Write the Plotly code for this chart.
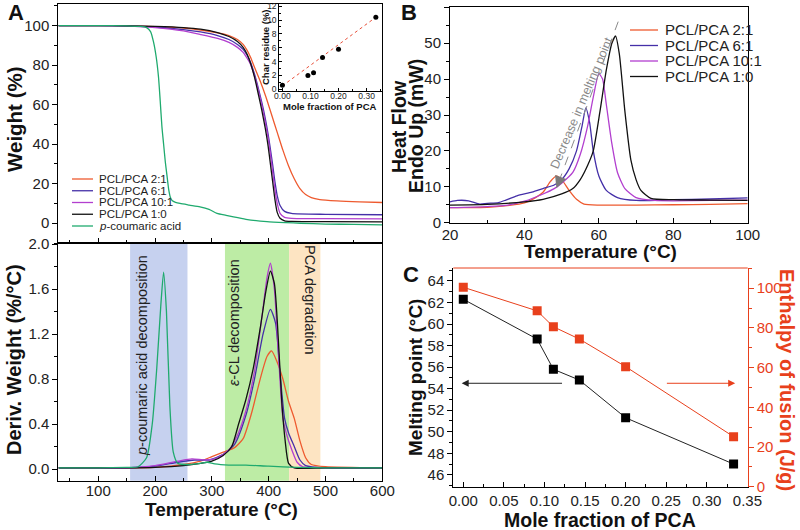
import plotly.graph_objects as go

FONT = "Liberation Sans, Arial, sans-serif"
W, H = 800, 530

# ---------------- data ----------------
names = ["PCL/PCA 2:1", "PCL/PCA 6:1", "PCL/PCA 10:1", "PCL/PCA 1:0", "<i>p</i>-coumaric acid"]
colors = ["#ee5a2f", "#4530a8", "#b23fcf", "#111111", "#1faa6e"]

# TGA (weight %)
tga_T_red = [30, 100, 150, 200, 250, 280, 310, 330, 345, 355, 362, 368, 375, 385, 395, 405, 415, 425, 435, 445, 455, 465, 475, 490, 520, 560, 600]
tga_w_red = [100, 100, 99.9, 99.5, 98.8, 97.8, 96.3, 95, 93, 90.5, 87.5, 84, 79, 72, 64, 55, 46, 37, 29, 22.5, 17.5, 14.5, 13, 12, 11.3, 10.8, 10.5]
tga_T_blk = [30, 100, 150, 200, 250, 280, 310, 330, 345, 355, 362, 368, 375, 382, 388, 394, 399, 403, 407, 411, 415, 420, 428, 440, 500, 600]
tga_w_6 = [100, 100, 99.9, 99.3, 98, 96.8, 95, 93, 90.5, 88, 85, 81.5, 75.5, 68, 61, 53, 45, 37.5, 29.5, 21, 14, 9, 6, 5, 4.5, 4.3]
tga_w_10 = [100, 100, 99.8, 99, 97.3, 95.5, 93.5, 91.5, 89, 86.5, 83.5, 80.5, 74.5, 67, 59.5, 51, 43, 35, 26, 17, 10, 5, 3, 2.5, 2.3, 2.2]
tga_w_blk = [100, 100, 99.9, 99.6, 99, 98.2, 96.5, 94.5, 92, 89, 85.5, 81, 74, 65, 57, 48, 39, 30, 21, 12, 5.5, 2.5, 1.2, 0.9, 0.8, 0.7]
tga_T_pca = [30, 100, 150, 175, 185, 192, 197, 202, 206, 209, 212, 215, 218, 221, 224, 227, 230, 236, 244, 260, 279, 295, 309, 325, 338, 360, 397, 430, 456, 500, 550, 600]
tga_w_pca = [100, 100, 99.9, 99.6, 99, 97, 92, 84, 74, 62, 49, 40, 31, 24, 17, 13, 11.5, 10.6, 10, 9.2, 8.3, 7, 5, 4, 3.2, 2, 0.8, 0.3, 0, -0.4, -0.6, -0.8]

# DTG (%/°C)
dtg_T_red = [30, 150, 200, 250, 280, 300, 320, 340, 355, 370, 385, 397, 405, 415, 425, 435, 445, 455, 465, 475, 500, 600]
dtg_d_red = [0.01, 0.01, 0.015, 0.04, 0.07, 0.11, 0.15, 0.19, 0.27, 0.5, 0.8, 1.0, 1.05, 0.95, 0.8, 0.6, 0.45, 0.25, 0.1, 0.04, 0.02, 0.01]
dtg_T_6 = [30, 150, 200, 240, 270, 295, 320, 340, 360, 375, 390, 403, 412, 420, 428, 435, 445, 455, 465, 500, 600]
dtg_d_6 = [0.01, 0.01, 0.025, 0.06, 0.08, 0.08, 0.13, 0.22, 0.48, 0.8, 1.2, 1.42, 1.3, 0.85, 0.45, 0.32, 0.2, 0.08, 0.03, 0.01, 0.01]
dtg_T_10 = [30, 150, 200, 240, 265, 290, 310, 330, 345, 360, 375, 388, 397, 403, 410, 418, 425, 432, 440, 450, 460, 500, 600]
dtg_d_10 = [0.01, 0.01, 0.03, 0.07, 0.09, 0.08, 0.1, 0.17, 0.3, 0.52, 0.87, 1.35, 1.7, 1.83, 1.6, 0.95, 0.45, 0.3, 0.18, 0.06, 0.02, 0.01, 0.01]
dtg_T_blk = [30, 100, 150, 200, 250, 280, 300, 320, 335, 347, 360, 373, 385, 395, 403, 410, 417, 423, 429, 435, 445, 500, 600]
dtg_d_blk = [0.01, 0.01, 0.01, 0.015, 0.03, 0.05, 0.07, 0.12, 0.2, 0.4, 0.62, 0.9, 1.25, 1.58, 1.76, 1.65, 1.15, 0.6, 0.25, 0.05, 0.01, 0.01, 0.01]
dtg_T_pca = [30, 100, 150, 170, 185, 195, 203, 210, 215, 220, 226, 232, 240, 260, 280, 292, 305, 330, 360, 400, 450, 500, 600]
dtg_d_pca = [0.01, 0.01, 0.015, 0.02, 0.1, 0.4, 0.9, 1.45, 1.75, 1.4, 0.56, 0.15, 0.05, 0.04, 0.05, 0.06, 0.045, 0.035, 0.035, 0.025, 0.015, 0.01, 0.01]

# shaded temperature ranges
band_start = [156, 323, 436]
band_end = [257, 436, 491]
band_colors = ["#c6d1ef", "#bdeca5", "#fde4c2"]
band_labels = ["<i>p</i>-coumaric acid decomposition", "<i>ε</i>-CL decomposition", "PCA degradation"]

# inset: char residue
mole_frac = [0.0, 0.091, 0.111, 0.143, 0.2, 0.333]
char_res = [0.6, 2.0, 2.4, 4.6, 5.8, 10.4]
fit_x = [0.0, 0.333]
fit_y = [0.5, 10.4]

# DSC (mW)
dsc_T_red = [20, 25, 30, 36, 40, 43, 45, 47, 48.5, 50, 52, 54, 56, 60, 70, 80, 90, 100]
dsc_q_red = [4.2, 4.2, 4.3, 4.8, 5.5, 7, 8.5, 11.5, 13, 12, 9, 6.5, 5.2, 4.9, 4.9, 5, 5.1, 5.3]
dsc_T_6 = [20, 22, 25, 28, 30, 33, 35, 38, 42, 45, 48, 50, 52, 54, 55.5, 56.5, 57.5, 58.5, 60, 62, 65, 70, 80, 90, 100]
dsc_q_6 = [5.8, 6.2, 6.1, 5.2, 5.4, 5.6, 6.3, 7.5, 8.5, 9.5, 10.5, 12, 15, 20, 27, 32, 28, 20, 13, 9, 7, 6.2, 6.4, 6.6, 6.9]
dsc_T_10 = [20, 30, 35, 40, 45, 48, 50, 53, 55, 57, 58.5, 60, 61, 62, 63.5, 65, 67, 70, 75, 80, 90, 100]
dsc_q_10 = [4.2, 4.5, 4.8, 6, 8, 9.5, 11, 14, 19, 27, 35, 41.5, 40, 33, 22, 14, 9.5, 7, 6.2, 6.1, 6.2, 6.3]
dsc_T_blk = [20, 30, 40, 45, 50, 53, 55, 57, 58.5, 60.3, 62, 63.5, 64.5, 65.5, 67, 68.6, 70, 71.3, 74, 80, 90, 100]
dsc_q_blk = [4.9, 5.1, 5.8, 6.5, 8, 9.5, 12, 16, 20, 31, 42.5, 50, 52, 47, 31, 17.5, 12, 9, 6.8, 6.4, 6.3, 6.2]

# melting point / enthalpy
melt_pt = [62.3, 58.6, 55.8, 54.8, 51.3, 47.0]
enthalpy = [100.5, 88.6, 80.6, 74.4, 60.5, 25.2]

RED = "#e8401c"

# ---------------- figure ----------------
fig = go.Figure()

def px(x):
    return x / W

def py(y):
    return 1 - y / H

tga = [(tga_T_red, tga_w_red), (tga_T_blk, tga_w_6), (tga_T_blk, tga_w_10),
       (tga_T_blk, tga_w_blk), (tga_T_pca, tga_w_pca)]
dtg = [(dtg_T_red, dtg_d_red), (dtg_T_6, dtg_d_6), (dtg_T_10, dtg_d_10),
       (dtg_T_blk, dtg_d_blk), (dtg_T_pca, dtg_d_pca)]
for (tx, ty), c in zip(tga, colors):
    fig.add_trace(go.Scatter(x=tx, y=ty, mode="lines", line=dict(color=c, width=1.3, shape="spline", smoothing=0.6),
                             xaxis="x", yaxis="y", showlegend=False))
for (tx, ty), c in zip(dtg, colors):
    fig.add_trace(go.Scatter(x=tx, y=ty, mode="lines", line=dict(color=c, width=1.3, shape="spline", smoothing=0.6),
                             xaxis="x2", yaxis="y2", showlegend=False))

fig.add_trace(go.Scatter(x=fit_x, y=fit_y, mode="lines", line=dict(color="#e8503a", width=1, dash="dot"),
                         xaxis="x3", yaxis="y3", showlegend=False))
fig.add_trace(go.Scatter(x=mole_frac, y=char_res, mode="markers", marker=dict(color="black", size=5),
                         xaxis="x3", yaxis="y3", showlegend=False))

dsc = [(dsc_T_red, dsc_q_red), (dsc_T_6, dsc_q_6), (dsc_T_10, dsc_q_10), (dsc_T_blk, dsc_q_blk)]
for (tx, ty), c in zip(dsc, colors[:4]):
    fig.add_trace(go.Scatter(x=tx, y=ty, mode="lines", line=dict(color=c, width=1.3, shape="spline", smoothing=0.6),
                             xaxis="x4", yaxis="y4", showlegend=False))

fig.add_trace(go.Scatter(x=mole_frac, y=melt_pt, mode="lines+markers", line=dict(color="#222", width=1),
                         marker=dict(symbol="square", size=9, color="black"),
                         xaxis="x5", yaxis="y5", showlegend=False))
fig.add_trace(go.Scatter(x=mole_frac, y=enthalpy, mode="lines+markers", line=dict(color=RED, width=1),
                         marker=dict(symbol="square", size=9, color=RED),
                         xaxis="x5", yaxis="y6", showlegend=False))

tickfont = dict(family=FONT, size=15, color="#222")

def ax(domain, rng, anchor, dtick=None, minor=None, labels=True, mirror=True, fmt=None, font=tickfont,
       color="black", ticklen=5, ticks="outside", **kw):
    d = dict(domain=domain, range=rng, anchor=anchor, showline=True, linecolor=color, linewidth=1,
             mirror=mirror, ticks=ticks, ticklen=ticklen, tickwidth=1, tickcolor=color,
             showgrid=False, zeroline=False, showticklabels=labels, tickfont=font, automargin=False)
    if dtick is not None:
        d["dtick"] = dtick
        d["tick0"] = 0
    if minor is not None:
        d["minor"] = dict(dtick=minor, tick0=0, ticks=ticks, ticklen=max(ticklen - 2, 2), tickcolor=color,
                          showgrid=False)
    if fmt:
        d["tickformat"] = fmt
    d.update(kw)
    return d

xA = [px(58.3), px(382.3)]
inset_font = dict(family=FONT, size=8.5, color="#222")
fig.update_layout(
    width=W, height=H, margin=dict(l=0, r=0, t=0, b=0, autoexpand=False),
    paper_bgcolor="white", plot_bgcolor="rgba(0,0,0,0)",
    font=dict(family=FONT, color="#222"),
    xaxis=ax(xA, [29.6, 600], "y", dtick=100, minor=50, labels=False, ticks="inside"),
    yaxis=ax([py(243), py(4.3)], [-10, 110.8], "x", dtick=20, minor=10),
    xaxis2=ax(xA, [29.6, 600], "y2", dtick=100, minor=50, ticks="inside", ticklabelstandoff=-4),
    yaxis2=ax([py(480.7), py(243)], [-0.104, 2.01], "x2", dtick=0.4, minor=0.2, fmt=".1f"),
    xaxis3=ax([px(279.3), px(382.3)], [-0.011, 0.356], "y3", dtick=0.1, minor=0.05, fmt=".2f",
              font=inset_font, ticklen=3, ticks="inside", ticklabelstandoff=-3),
    yaxis3=ax([py(90.7), py(4.3)], [-0.2, 12.27], "x3", dtick=2, minor=1,
              font=inset_font, ticklen=3, ticks="inside"),
    xaxis4=ax([px(450), px(747.7)], [20, 100], "y4", dtick=20, minor=10, ticks="inside", ticklabelstandoff=-2),
    yaxis4=ax([py(222.7), py(7.3)], [0, 60], "x4", dtick=10, minor=5),
    xaxis5=ax([px(453.3), px(747.7)], [-0.0123, 0.3504], "y5", dtick=0.05, minor=0.025, fmt=".2f", mirror=False,
              ticks="inside", ticklabelstandoff=0),
    yaxis5=ax([py(486.7), py(268)], [44.9, 65.2], "x5", dtick=2, minor=1, mirror=False),
    yaxis6=ax([py(486.7), py(268)], [0, 110.2], "x5", dtick=20, minor=10, mirror=False, color=RED,
              font=dict(family=FONT, size=15, color=RED), overlaying="y5", side="right"),
)

shapes = []
for s, e, c in zip(band_start, band_end, band_colors):
    shapes.append(dict(type="rect", xref="x2", yref="y2 domain", x0=s, x1=e, y0=0, y1=1,
                       fillcolor=c, line=dict(width=0), layer="below"))
# top border of panel C in red
shapes.append(dict(type="line", xref="paper", yref="paper", x0=px(453.3), x1=px(747.7), y0=py(268), y1=py(268),
                   line=dict(color=RED, width=1)))
# dashed guide in panel B
ARROW_TAIL = (65.2, 56)
ARROW_HEAD = (48.6, 9.6)
shapes.append(dict(type="line", xref="x4", yref="y4", x0=ARROW_TAIL[0], y0=ARROW_TAIL[1], x1=ARROW_HEAD[0],
                   y1=ARROW_HEAD[1], line=dict(color="#8a8a8a", width=1, dash="dash")))

annotations = []

def txt(x, y, text, size, bold=False, angle=0, color="#111", xanchor="center", yanchor="middle"):
    t = f"<b>{text}</b>" if bold else text
    annotations.append(dict(x=px(x), y=py(y), xref="paper", yref="paper", text=t, showarrow=False,
                            textangle=angle, xanchor=xanchor, yanchor=yanchor,
                            font=dict(family=FONT, size=size, color=color)))

# manual legends
for i, (n, c) in enumerate(zip(names, colors)):
    yy = 179 + i * 11.75
    shapes.append(dict(type="line", xref="paper", yref="paper", x0=px(72), x1=px(93), y0=py(yy), y1=py(yy),
                       line=dict(color=c, width=1.3)))
    txt(97, yy, n, 11.5, xanchor="left", color="#222")
for i, (n, c) in enumerate(zip(names[:4], colors[:4])):
    yy = 30 + i * 15.5
    shapes.append(dict(type="line", xref="paper", yref="paper", x0=px(630), x1=px(658), y0=py(yy), y1=py(yy),
                       line=dict(color=c, width=1.3)))
    txt(663, yy, n, 15, xanchor="left", color="#222")

# panel letters
txt(16, 13, "A", 22, bold=True)
txt(409, 13, "B", 22, bold=True)
txt(411, 274, "C", 22, bold=True)

# axis titles
txt(14, 119, "Weight (%)", 20.5, bold=True, angle=-90)
txt(14, 360, "Deriv. Weight (%/°C)", 20, bold=True, angle=-90)
txt(221, 509, "Temperature (°C)", 19, bold=True)
txt(399, 127, "Heat Flow", 19.5, bold=True, angle=-90)
txt(416, 126, "Endo Up (mW)", 19.5, bold=True, angle=-90)
txt(600, 251, "Temperature (°C)", 19, bold=True)
txt(600, 520, "Mole fraction of PCA", 19.5, bold=True)
txt(415, 378, "Melting point (°C)", 19, bold=True, angle=-90)
txt(787, 380, "Enthalpy of fusion (J/g)", 20, bold=True, angle=90, color=RED)
txt(266, 47, "Char residue (%)", 9.5, bold=True, angle=-90)
txt(330, 106.5, "Mole fraction of PCA", 9.5, bold=True)

# band labels
txt(142, 356, band_labels[0], 14.5, angle=-90, color="#222")
txt(234, 323, band_labels[1], 14.5, angle=-90, color="#222")
txt(310, 300, band_labels[2], 14.5, angle=90, color="#222")

# panel B guide text + arrow head
annotations.append(dict(x=55.4, y=33.3, xref="x4", yref="y4", text="Decrease in melting point", showarrow=False,
                        textangle=-67, font=dict(family=FONT, size=12.5, color="#8a8a8a")))
annotations.append(dict(x=ARROW_HEAD[0], y=ARROW_HEAD[1], xref="x4", yref="y4", text="", showarrow=True,
                        ax=4.5, ay=-12, arrowhead=2, arrowsize=1.6, arrowwidth=1.5, arrowcolor="#7a7a7a"))

# panel C arrows
ARROW_Y = 54.5
annotations.append(dict(x=-0.002, y=ARROW_Y, xref="x5", yref="y5", ax=0.1235, ay=ARROW_Y, axref="x5", ayref="y5",
                        text="", showarrow=True, arrowhead=2, arrowsize=1.4, arrowwidth=1, arrowcolor="#222"))
annotations.append(dict(x=0.335, y=ARROW_Y, xref="x5", yref="y5", ax=0.249, ay=ARROW_Y, axref="x5", ayref="y5",
                        text="", showarrow=True, arrowhead=2, arrowsize=1.4, arrowwidth=1, arrowcolor=RED))

fig.update_layout(shapes=shapes, annotations=annotations)
fig.write_html("out.html", config={"displayModeBar": False},
               post_script="document.body.style.margin='0px';document.body.style.overflow='hidden';")
